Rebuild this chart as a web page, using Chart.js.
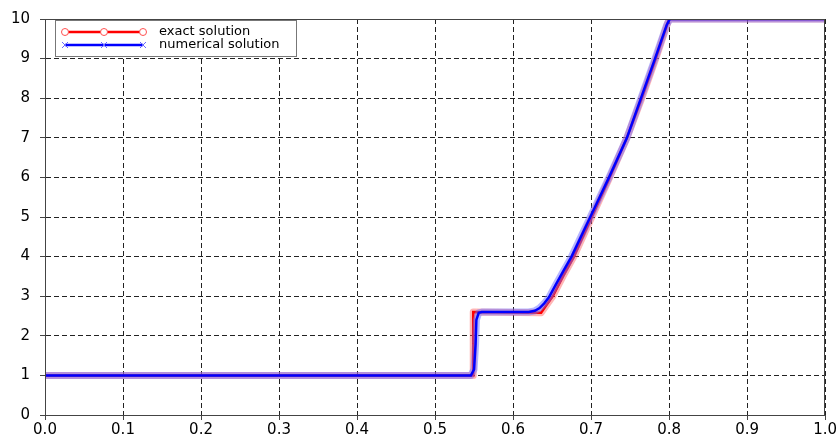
<!DOCTYPE html>
<html>
<head>
<meta charset="utf-8">
<script src="https://cdn.jsdelivr.net/npm/chart.js@4/dist/chart.umd.min.js"></script>
<style>
html,body{margin:0;padding:0;background:#fff;}
#wrap{width:838px;height:439px;position:relative;}
</style>
</head>
<body>
<div id="wrap"><canvas id="c"></canvas></div>
<script>
// ---- data ----
const exactX = [0.0, 0.549, 0.549, 0.636, 0.643, 0.651, 0.664, 0.678, 0.701, 0.724, 0.746, 0.765, 0.783, 0.800, 1.0];
const exactY = [1.0, 1.0,   2.6,   2.58,  2.78,  3.0,   3.5,   4.0,   5.0,   6.0,   7.0,   8.0,   9.0,   10.0,  10.0];

const numX = [0.0, 0.546, 0.550, 0.552, 0.553, 0.556, 0.560, 0.620, 0.628, 0.634, 0.640, 0.646, 0.655, 0.665, 0.675, 0.699, 0.723, 0.746, 0.764, 0.782, 0.797, 0.801, 1.0];
const numY = [1.0, 1.0,   1.15,  1.8,   2.4,   2.58,  2.6,   2.6,   2.63,  2.7,   2.82,  2.97,  3.3,   3.65,  4.0,   5.0,   6.0,   7.0,   8.0,   9.0,   9.85,  10.0,  10.0];

const seriesNames = ["exact solution", "numerical solution"];
const xTickLabels = ["0.0","0.1","0.2","0.3","0.4","0.5","0.6","0.7","0.8","0.9","1.0"];
const yTickLabels = ["0","1","2","3","4","5","6","7","8","9","10"];

function pts(xs, ys){ return xs.map((x,i)=>({x:x, y:ys[i]})); }

const FONT = "'DejaVu Sans', sans-serif";

const framePlugin = {
  id: 'frame',
  afterDraw(chart){
    const {ctx, chartArea:a} = chart;
    ctx.save();
    ctx.strokeStyle = '#444';
    ctx.lineWidth = 1;
    ctx.setLineDash([]);
    ctx.strokeRect(Math.round(a.left)+0.5, Math.round(a.top)+0.5, Math.round(a.right-a.left)-1, Math.round(a.bottom-a.top));
    // legend
    const lx = 55.5, ly = 20.5, lw = 241, lh = 36;
    ctx.fillStyle = '#fff';
    ctx.fillRect(lx, ly, lw, lh);
    ctx.strokeStyle = '#777';
    ctx.strokeRect(lx, ly, lw, lh);
    const rows = [
      {y: 32, color: '#ff0000', marker: 'circle', text: seriesNames[0]},
      {y: 45, color: '#0000ff', marker: 'cross', text: seriesNames[1]}
    ];
    const x0 = 65, x1 = 143;
    rows.forEach(r => {
      ctx.strokeStyle = r.color;
      ctx.lineWidth = 2.5;
      ctx.beginPath(); ctx.moveTo(x0, r.y); ctx.lineTo(x1, r.y); ctx.stroke();
      [x0, (x0+x1)/2, x1].forEach(mx => {
        if (r.marker === 'circle'){
          ctx.lineWidth = 1;
          ctx.fillStyle = '#fff';
          ctx.strokeStyle = '#ff5050';
          ctx.beginPath(); ctx.arc(mx, r.y, 3.5, 0, Math.PI*2); ctx.fill(); ctx.stroke();
        } else {
          ctx.lineWidth = 1;
          ctx.strokeStyle = '#6a6aff';
          ctx.beginPath();
          ctx.moveTo(mx-3, r.y-3); ctx.lineTo(mx+3, r.y+3);
          ctx.moveTo(mx-3, r.y+3); ctx.lineTo(mx+3, r.y-3);
          ctx.stroke();
        }
      });
      ctx.fillStyle = '#000';
      ctx.font = '13px ' + FONT;
      ctx.textBaseline = 'middle';
      ctx.textAlign = 'left';
      ctx.fillText(r.text, 159, r.y);
    });
    ctx.restore();
  }
};

// Chart.js draws dataset 0 on top, so the numerical solution comes first.
new Chart(document.getElementById('c'), {
  type: 'scatter',
  data: {
    datasets: [
      {label: seriesNames[1], data: pts(numX, numY), showLine: true, borderColor: '#0000ff', borderWidth: 2.5, pointRadius: 0, tension: 0},
      {label: seriesNames[1]+' halo', data: pts(numX, numY), showLine: true, borderColor: 'rgba(110,110,255,0.5)', borderWidth: 7, pointRadius: 0, tension: 0, borderJoinStyle: 'round'},
      {label: seriesNames[0], data: pts(exactX, exactY), showLine: true, borderColor: '#ff0000', borderWidth: 2.5, pointRadius: 0, tension: 0},
      {label: seriesNames[0]+' halo', data: pts(exactX, exactY), showLine: true, borderColor: 'rgba(255,70,70,0.4)', borderWidth: 7, pointRadius: 0, tension: 0, borderJoinStyle: 'round'}
    ]
  },
  options: {
    responsive: true,
    maintainAspectRatio: false,
    animation: false,
    layout: {padding: {top: 17, right: 12, left: 0, bottom: 0}},
    plugins: {legend: {display: false}, tooltip: {enabled: false}},
    scales: {
      x: {
        type: 'linear', min: 0, max: 1,
        afterBuildTicks(s){ s.ticks = xTickLabels.map((t,i)=>({value: i/10})); },
        ticks: {callback: (v, i) => xTickLabels[i], color: '#000', font: {family: FONT, size: 15}, padding: 1, maxRotation: 0, autoSkip: false},
        grid: {color: '#222', lineWidth: 1, drawTicks: true, tickLength: 5, tickColor: '#444'},
        border: {display: true, color: '#444', width: 1, dash: [5, 3]},
        afterFit(s){ s.height = 24; }
      },
      y: {
        type: 'linear', min: 0, max: 10,
        afterBuildTicks(s){ s.ticks = yTickLabels.map((t,i)=>({value: i})); },
        ticks: {callback: (v, i) => yTickLabels[i], color: '#000', font: {family: FONT, size: 15}, padding: 10, autoSkip: false},
        grid: {color: '#222', lineWidth: 1, drawTicks: true, tickLength: 5, tickColor: '#444'},
        border: {display: true, color: '#444', width: 1, dash: [5, 3]},
        afterFit(s){ s.width = 45; }
      }
    }
  },
  plugins: [framePlugin]
});
</script>
</body>
</html>
